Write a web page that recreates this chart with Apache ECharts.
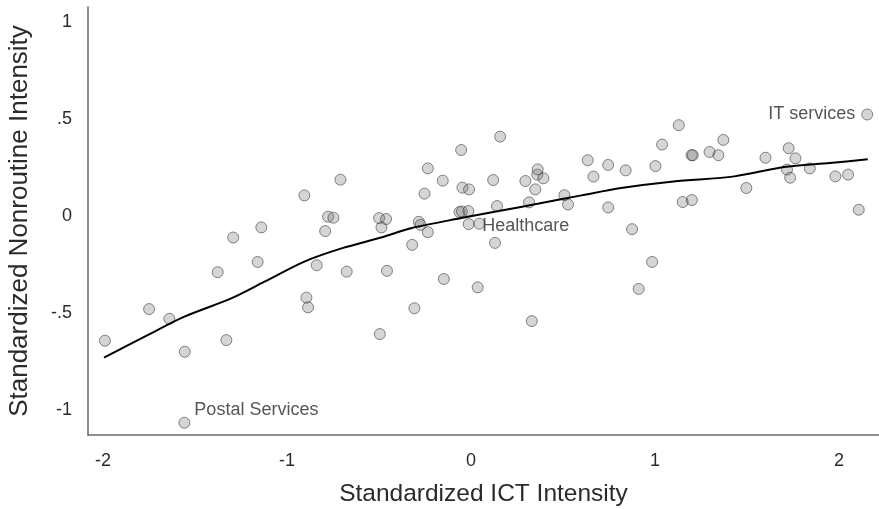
<!DOCTYPE html>
<html>
<head>
<meta charset="utf-8">
<script src="https://cdn.jsdelivr.net/npm/echarts@6/dist/echarts.min.js"></script>
<style>
  html, body { margin: 0; padding: 0; background: #fff; }
  #chart { width: 879px; height: 509px; }
</style>
</head>
<body>
<div id="chart"></div>
<script>
// Industries: standardized ICT intensity (x) vs. standardized nonroutine intensity (y)
const ictIntensity = [
  -1.99, -1.75, -1.64, -1.556, -1.558, -1.377, -1.33, -1.293, -1.16, -1.14,
  -0.906, -0.895, -0.886, -0.839, -0.793, -0.777, -0.748, -0.71, -0.676, -0.50,
  -0.462, -0.487, -0.496, -0.457, -0.32, -0.308, -0.284, -0.275, -0.253, -0.235,
  -0.235, -0.154, -0.148, -0.054, -0.047, -0.011, -0.063, -0.05, -0.015, -0.013,
  0.045, 0.036, 0.12, 0.13, 0.141, 0.158, 0.295, 0.315, 0.33, 0.349,
  0.36, 0.362, 0.393, 0.507, 0.527, 0.634, 0.665, 0.745, 0.745, 0.84,
  0.875, 0.911, 0.984, 1.002, 1.038, 1.129, 1.15, 1.198, 1.205, 1.20,
  1.296, 1.344, 1.371, 1.496, 1.6, 1.717, 1.726, 1.734, 1.763, 1.841,
  1.98, 2.049, 2.107, 2.153
];
const nonroutineIntensity = [
  -0.643, -0.48, -0.53, -0.70, -1.066, -0.29, -0.64, -0.111, -0.237, -0.059,
  0.106, -0.421, -0.471, -0.254, -0.078, -0.004, -0.009, 0.187, -0.287, -0.011,
  -0.016, -0.059, -0.609, -0.283, -0.149, -0.476, -0.030, -0.046, 0.115, 0.245,
  -0.084, 0.182, -0.325, 0.340, 0.146, 0.137, 0.020, 0.023, 0.025, -0.042,
  -0.040, -0.368, 0.185, -0.139, 0.051, 0.409, 0.18, 0.07, -0.542, 0.137,
  0.213, 0.24, 0.194, 0.107, 0.059, 0.287, 0.203, 0.263, 0.044, 0.235,
  -0.068, -0.376, -0.237, 0.257, 0.368, 0.468, 0.072, 0.313, 0.313, 0.082,
  0.33, 0.313, 0.392, 0.144, 0.30, 0.239, 0.349, 0.197, 0.297, 0.245,
  0.204, 0.213, 0.032, 0.523
];
// Named industries (index into the arrays above)
const labelledIndustries = { 4: 'Postal Services', 40: 'Healthcare', 83: 'IT services' };

// Local regression (lowess) fit
const fitX = [-1.995, -1.75, -1.558, -1.304, -1.123, -0.906, -0.7, -0.489, -0.326, -0.054,
  0.15, 0.362, 0.6, 0.815, 1.1, 1.431, 1.70, 1.95, 2.156];
const fitY = [-0.73, -0.61, -0.519, -0.425, -0.339, -0.235, -0.166, -0.111, -0.063, -0.011,
  0.025, 0.063, 0.106, 0.144, 0.178, 0.204, 0.252, 0.273, 0.292];

const xTicks = [-2, -1, 0, 1, 2];
const yTicks = [-1, -0.5, 0, 0.5, 1];

const FONT = 'Liberation Sans, Helvetica, Arial, sans-serif';
const TEXT = '#2b2b2b';

const labelPlacement = {
  'Postal Services': { position: 'right', distance: 4, offset: [0, -13] },
  'Healthcare': { position: 'right', distance: -3, offset: [0, 2] },
  'IT services': { position: 'left', distance: 6, offset: [0, 0] }
};

const points = ictIntensity.map((x, i) => {
  const name = labelledIndustries[i];
  const item = { value: [x, nonroutineIntensity[i]] };
  if (name) {
    item.name = name;
    item.label = Object.assign({
      show: true,
      formatter: name,
      fontFamily: FONT,
      fontSize: 18,
      color: TEXT
    }, labelPlacement[name]);
  }
  return item;
});

const fmt = v => {
  if (v === 0) return '0';
  const s = String(v);
  return s.replace(/^(-?)0\./, '$1.');
};

const chart = echarts.init(document.getElementById('chart'), null, { renderer: 'canvas' });
chart.setOption({
  animation: false,
  backgroundColor: '#fff',
  grid: { left: 88, right: 0, top: 7, bottom: 74, containLabel: false, outerBoundsMode: 'none' },
  xAxis: {
    type: 'value',
    min: -2.082,
    max: 2.217,
    name: 'Standardized ICT Intensity',
    nameLocation: 'middle',
    nameGap: 47,
    nameTextStyle: { fontFamily: FONT, fontSize: 24.5, color: TEXT },
    axisLine: { show: true, onZero: false, lineStyle: { color: '#6a6a6a', width: 1.5 } },
    axisTick: { show: false },
    splitLine: { show: false },
    axisLabel: {
      customValues: xTicks,
      formatter: fmt,
      margin: 17,
      fontFamily: FONT,
      fontSize: 18,
      color: TEXT
    }
  },
  yAxis: {
    type: 'value',
    min: -1.129,
    max: 1.077,
    name: 'Standardized Nonroutine Intensity',
    nameLocation: 'middle',
    nameGap: 55,
    nameTextStyle: { fontFamily: FONT, fontSize: 26, color: TEXT },
    axisLine: { show: true, onZero: false, lineStyle: { color: '#6a6a6a', width: 1.5 } },
    axisTick: { show: false },
    splitLine: { show: false },
    axisLabel: {
      customValues: yTicks,
      formatter: fmt,
      margin: 16,
      fontFamily: FONT,
      fontSize: 18,
      color: TEXT
    }
  },
  series: [
    {
      type: 'scatter',
      data: points,
      symbolSize: 11,
      itemStyle: {
        color: 'rgba(110,110,110,0.36)',
        borderColor: 'rgba(40,40,40,0.75)',
        borderWidth: 0.9
      },
      emphasis: { disabled: true },
      z: 2
    },
    {
      type: 'line',
      data: fitX.map((x, i) => [x, fitY[i]]),
      showSymbol: false,
      smooth: 0.3,
      lineStyle: { color: '#000', width: 2 },
      emphasis: { disabled: true },
      z: 3
    }
  ]
});
</script>
</body>
</html>
